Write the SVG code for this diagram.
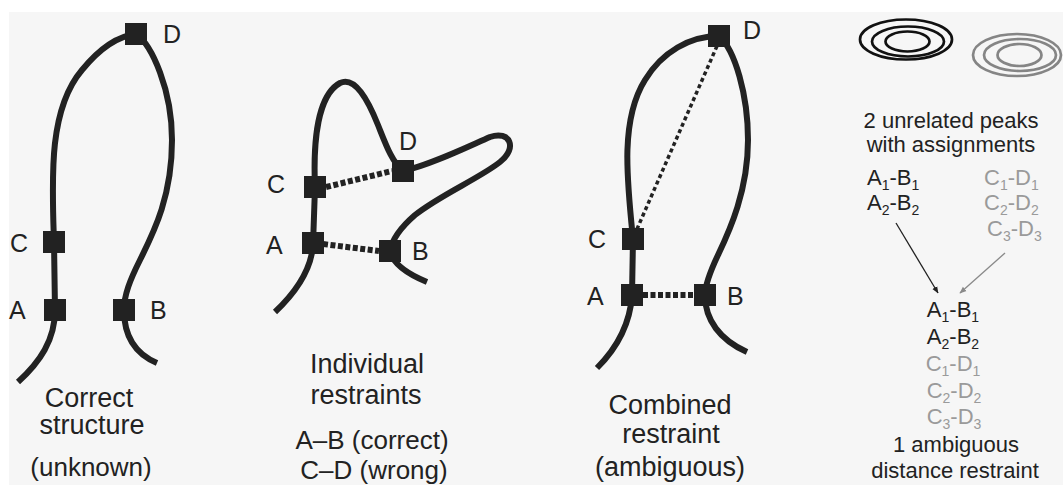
<svg xmlns="http://www.w3.org/2000/svg" width="1063" height="485" viewBox="0 0 1063 485">
<style>
.bg{fill:#f6f6f6}
.chain{fill:none;stroke:#222;stroke-width:6;stroke-linecap:butt;stroke-linejoin:round}
.sq{fill:#222}
.lbl{font-family:"Liberation Sans",Arial,sans-serif;font-size:25px;fill:#222}
.title{font-family:"Liberation Sans",Arial,sans-serif;font-size:27px;fill:#222;text-anchor:middle}
.sub{font-family:"Liberation Sans",Arial,sans-serif;font-size:26px;fill:#222;text-anchor:middle}
.t4{font-family:"Liberation Sans",Arial,sans-serif;font-size:22px;fill:#222}
.g4{fill:#9a9a9a}
.mid{text-anchor:middle}
.dash{fill:none;stroke:#222;stroke-width:6;stroke-dasharray:5 2.5}
.dot{fill:none;stroke:#222;stroke-width:3.5;stroke-dasharray:4 3}
.peakB{fill:none;stroke:#111;stroke-width:2.7}
.peakG{fill:none;stroke:#858585;stroke-width:2.7}
</style>
<defs>
<marker id="arrB" viewBox="0 0 10 10" refX="9" refY="5" markerWidth="7" markerHeight="7" orient="auto" markerUnits="userSpaceOnUse">
<path d="M0,1 L10,5 L0,9 Z" fill="#222"/>
</marker>
<marker id="arrG" viewBox="0 0 10 10" refX="9" refY="5" markerWidth="7" markerHeight="7" orient="auto" markerUnits="userSpaceOnUse">
<path d="M0,1 L10,5 L0,9 Z" fill="#8a8a8a"/>
</marker>
</defs>
<rect width="1063" height="485" fill="#ffffff"/>
<rect class="bg" x="9" y="12" width="1054" height="473"/>

<g id="connectors">
<path class="chain" d="M18,382 C40,362 55,340 55,310 L54,242 C52,180 48,110 82,70 C100,48 118,36 136,34 C152,45 172,90 172,140 C172,195 155,230 140,260 C130,280 124,295 124,310 C124,340 138,355 157,363"/>
<path class="chain" d="M275,312 C293,295 311,272 313,245 L315,187 C313,140 318,95 340,83 C355,76 368,100 378,125 C386,145 392,162 403,171 C430,165 465,148 490,137 C510,130 518,148 500,162 C480,178 440,195 415,215 C400,228 392,240 390,251 C393,265 410,275 427,282"/>
<path class="dash" d="M326,187 L392,171"/>
<path class="dash" d="M323,244 L379,251"/>
<path class="chain" d="M597,368 C615,350 630,325 632,295 L633,239 C627,180 620,120 645,80 C662,52 690,36 719,36 C735,50 748,95 748,140 C748,190 730,230 718,255 C710,272 705,285 705,295 C705,320 720,340 747,352"/>
<path class="dot" d="M717,46 L637,229"/>
<path class="dash" d="M643,295 L694,295"/>
<line x1="896" y1="223" x2="938" y2="293" stroke="#222" stroke-width="1.3" marker-end="url(#arrB)"/>
<line x1="1005" y1="253" x2="960" y2="293" stroke="#8a8a8a" stroke-width="1.3" marker-end="url(#arrG)"/>
</g>

<g id="p1-D"><rect class="sq" x="125" y="23" width="22" height="22"/><text class="lbl" x="163" y="43">D</text></g>
<g id="p1-C"><rect class="sq" x="43" y="231" width="22" height="22"/><text class="lbl" x="10" y="252">C</text></g>
<g id="p1-A"><rect class="sq" x="44" y="299" width="22" height="22"/><text class="lbl" x="9" y="319">A</text></g>
<g id="p1-B"><rect class="sq" x="113" y="299" width="22" height="22"/><text class="lbl" x="150" y="319">B</text></g>
<g id="p1-title">
<text class="title" x="89" y="407">Correct</text>
<text class="title" x="92" y="434">structure</text>
<text class="sub" x="91" y="476">(unknown)</text>
</g>

<g id="p2-C"><rect class="sq" x="304" y="176" width="22" height="22"/><text class="lbl" x="267" y="193">C</text></g>
<g id="p2-D"><rect class="sq" x="392" y="160" width="22" height="22"/><text class="lbl" x="399" y="150">D</text></g>
<g id="p2-A"><rect class="sq" x="302" y="232" width="22" height="22"/><text class="lbl" x="266" y="254">A</text></g>
<g id="p2-B"><rect class="sq" x="379" y="240" width="22" height="22"/><text class="lbl" x="412" y="260">B</text></g>
<g id="p2-title">
<text class="title" x="367" y="373">Individual</text>
<text class="title" x="366" y="404">restraints</text>
<text class="sub" x="372" y="449">A–B (correct)</text>
<text class="sub" x="374" y="479">C–D (wrong)</text>
</g>

<g id="p3-D"><rect class="sq" x="708" y="25" width="22" height="22"/><text class="lbl" x="743" y="39">D</text></g>
<g id="p3-C"><rect class="sq" x="622" y="228" width="22" height="22"/><text class="lbl" x="588" y="248">C</text></g>
<g id="p3-A"><rect class="sq" x="621" y="284" width="22" height="22"/><text class="lbl" x="587" y="305">A</text></g>
<g id="p3-B"><rect class="sq" x="694" y="284" width="22" height="22"/><text class="lbl" x="727" y="305">B</text></g>
<g id="p3-title">
<text class="title" x="670" y="414">Combined</text>
<text class="title" x="671" y="443">restraint</text>
<text class="title" x="670" y="476">(ambiguous)</text>
</g>

<g id="peak-black">
<ellipse class="peakB" cx="906" cy="39.5" rx="46" ry="20"/>
<ellipse class="peakB" cx="908" cy="41.5" rx="36" ry="15"/>
<ellipse class="peakB" cx="907.5" cy="41.5" rx="22" ry="10"/>
</g>
<g id="peak-gray">
<ellipse class="peakG" cx="1017" cy="55" rx="44" ry="21"/>
<ellipse class="peakG" cx="1020" cy="55" rx="36" ry="16"/>
<ellipse class="peakG" cx="1019.5" cy="55" rx="22" ry="11"/>
</g>
<g id="peaks-caption">
<text class="t4 mid" x="951" y="128">2 unrelated peaks</text>
<text class="t4 mid" x="951" y="152">with assignments</text>
</g>
<g id="list-AB">
<text class="t4" x="867" y="185">A<tspan font-size="14" dy="5">1</tspan><tspan dy="-5">-B</tspan><tspan font-size="14" dy="5">1</tspan></text>
<text class="t4" x="867" y="210">A<tspan font-size="14" dy="5">2</tspan><tspan dy="-5">-B</tspan><tspan font-size="14" dy="5">2</tspan></text>
</g>
<g id="list-CD">
<text class="t4 g4" x="984" y="185">C<tspan font-size="14" dy="5">1</tspan><tspan dy="-5">-D</tspan><tspan font-size="14" dy="5">1</tspan></text>
<text class="t4 g4" x="984" y="210">C<tspan font-size="14" dy="5">2</tspan><tspan dy="-5">-D</tspan><tspan font-size="14" dy="5">2</tspan></text>
<text class="t4 g4" x="987" y="236">C<tspan font-size="14" dy="5">3</tspan><tspan dy="-5">-D</tspan><tspan font-size="14" dy="5">3</tspan></text>
</g>
<g id="combined-list">
<text class="t4 mid" x="953" y="317">A<tspan font-size="14" dy="5">1</tspan><tspan dy="-5">-B</tspan><tspan font-size="14" dy="5">1</tspan></text>
<text class="t4 mid" x="953" y="344">A<tspan font-size="14" dy="5">2</tspan><tspan dy="-5">-B</tspan><tspan font-size="14" dy="5">2</tspan></text>
<text class="t4 mid g4" x="953" y="371">C<tspan font-size="14" dy="5">1</tspan><tspan dy="-5">-D</tspan><tspan font-size="14" dy="5">1</tspan></text>
<text class="t4 mid g4" x="954" y="398">C<tspan font-size="14" dy="5">2</tspan><tspan dy="-5">-D</tspan><tspan font-size="14" dy="5">2</tspan></text>
<text class="t4 mid g4" x="954" y="424">C<tspan font-size="14" dy="5">3</tspan><tspan dy="-5">-D</tspan><tspan font-size="14" dy="5">3</tspan></text>
<text class="t4 mid" x="956" y="452">1 ambiguous</text>
<text class="t4 mid" x="955" y="478">distance restraint</text>
</g>
</svg>
